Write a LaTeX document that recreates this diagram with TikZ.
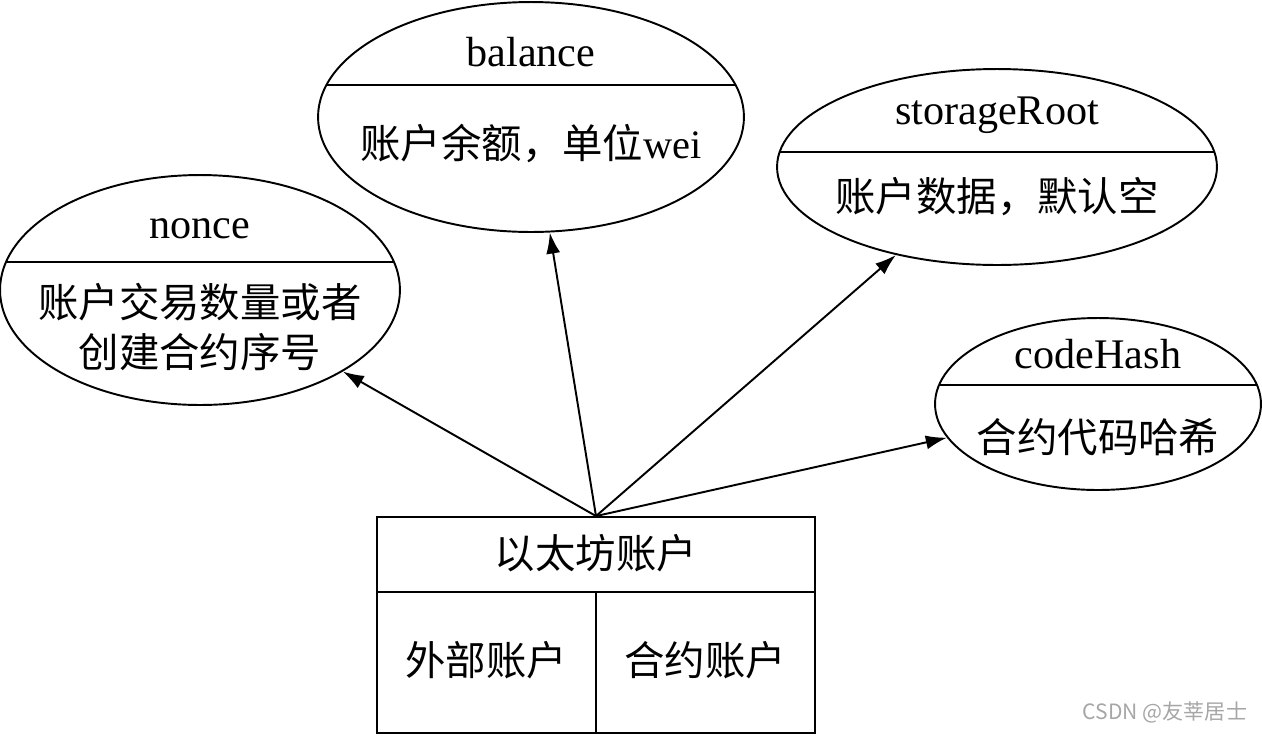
\documentclass[tikz,border=0pt]{standalone}
\usepackage{fontspec}
\setmainfont{Liberation Serif}
\newfontfamily\cjk{Noto Sans CJK SC}
\usetikzlibrary{shapes.geometric, arrows.meta}
\begin{document}
\begin{tikzpicture}[x=0.02cm, y=-0.02cm, line width=1.1pt]
    \tikzstyle{field} = [draw, ellipse, inner sep=0pt]
    \tikzstyle{note} = [font=\fontsize{23}{29}\selectfont\cjk, align=center]
    \tikzstyle{fieldname} = [font=\fontsize{24}{28}\selectfont]
    \tikzstyle{arrow} = [-{Latex[length=12pt, width=8pt]}]
    \useasboundingbox (0,0) rectangle (1262,735);

    % account fields
    \node[field, minimum width=8.52cm, minimum height=4.6cm] (balance) at (531,117) {};
    \node[field, minimum width=8.8cm, minimum height=3.92cm] (storage) at (997,167) {};
    \node[field, minimum width=8cm, minimum height=4.6cm] (nonce) at (200,290) {};
    \node[field, minimum width=6.52cm, minimum height=3.44cm] (codehash) at (1098,404) {};

    \begin{scope}\clip (531,117) ellipse (213 and 115); \draw (0,85) -- (1262,85); \end{scope}
    \begin{scope}\clip (997,167) ellipse (220 and 98); \draw (0,152) -- (1262,152); \end{scope}
    \begin{scope}\clip (200,290) ellipse (200 and 115); \draw (0,262) -- (1262,262); \end{scope}
    \begin{scope}\clip (1098,404) ellipse (163 and 86); \draw (0,385) -- (1262,385); \end{scope}

    \node[fieldname] (balanceT) at (531,52) {balance};
    \node[note] (balanceL) at (531,143) {账户余额，单位\textrm{wei}};
    \node[fieldname] (storageT) at (997,115) {storageRoot};
    \node[note] (storageL) at (997,197) {账户数据，默认空};
    \node[fieldname] (nonceT) at (200,229) {nonce};
    \node[note] (nonceL) at (200,327) {账户交易数量或者\\创建合约序号};
    \node[fieldname] (codehashT) at (1098,354) {codeHash};
    \node[note] (codehashL) at (1098,437) {合约代码哈希};

    % account box
    \node[draw, minimum width=8.76cm, minimum height=4.32cm, inner sep=0pt] (account) at (596,625) {};
    \draw (377,592) -- (815,592);
    \draw (596,592) -- (account.south);
    \node[note] (accountT) at (596,553) {以太坊账户};
    \node[note] (eoa) at (486,660) {外部账户};
    \node[note] (contract) at (705,660) {合约账户};

    \draw[arrow] (account.north) -- (nonce);
    \draw[arrow] (account.north) -- (balance);
    \draw[arrow] (account.north) -- (storage);
    \draw[arrow] (account.north) -- (codehash);

    \node[font=\fontsize{12}{14}\selectfont\cjk, text=gray!70] (mark) at (1165,712) {CSDN @友莘居士};
\end{tikzpicture}
\end{document}
